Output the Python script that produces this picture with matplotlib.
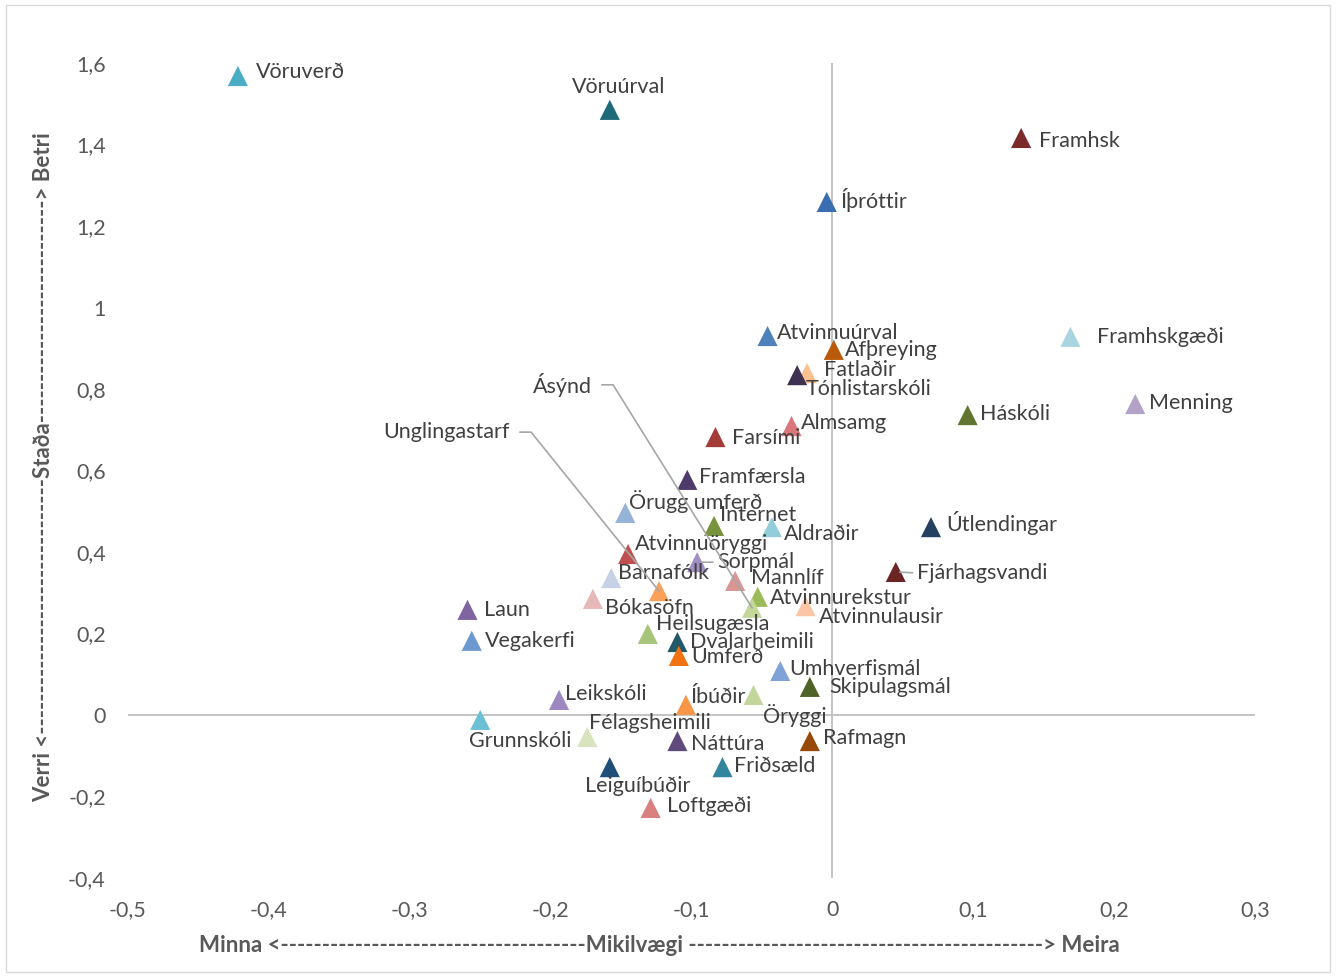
import math

import matplotlib

matplotlib.use("Agg")
import matplotlib.pyplot as plt
from matplotlib.patches import Rectangle
from matplotlib.ticker import FuncFormatter, MultipleLocator

# ---- data -------------------------------------------------------------
names = [
    "Vöruverð", "Vöruúrval", "Framhsk", "Íþróttir", "Atvinnuúrval", "Afþreying",
    "Fatlaðir", "Tónlistarskóli", "Framhskgæði", "Menning", "Háskóli", "Almsamg",
    "Farsími", "Framfærsla", "Örugg umferð", "Internet", "Aldraðir", "Útlendingar",
    "Atvinnuöryggi", "Sorpmál", "Fjárhagsvandi", "Barnafólk", "Mannlíf",
    "Unglingastarf", "Bókasöfn", "Atvinnurekstur", "Ásýnd", "Atvinnulausir",
    "Laun", "Heilsugæsla", "Vegakerfi", "Dvalarheimili", "Umferð", "Umhverfismál",
    "Skipulagsmál", "Leikskóli", "Öryggi", "Íbúðir", "Grunnskóli", "Félagsheimili",
    "Náttúra", "Rafmagn", "Friðsæld", "Leiguíbúðir", "Loftgæði",
]
importance = [
    -0.422, -0.158, 0.134, -0.004, -0.046, 0.001,
    -0.018, -0.025, 0.169, 0.215, 0.096, -0.029,
    -0.083, -0.103, -0.147, -0.084, -0.043, 0.070,
    -0.145, -0.096, 0.045, -0.157, -0.069,
    -0.123, -0.170, -0.053, -0.057, -0.019,
    -0.259, -0.131, -0.256, -0.110, -0.109, -0.037,
    -0.016, -0.194, -0.056, -0.104, -0.250, -0.174,
    -0.110, -0.016, -0.078, -0.158, -0.129,
]
status = [
    1.568, 1.485, 1.416, 1.259, 0.930, 0.896,
    0.839, 0.834, 0.928, 0.763, 0.736, 0.709,
    0.682, 0.577, 0.496, 0.464, 0.461, 0.461,
    0.395, 0.375, 0.351, 0.336, 0.329,
    0.304, 0.285, 0.290, 0.263, 0.267,
    0.258, 0.199, 0.182, 0.179, 0.145, 0.108,
    0.069, 0.037, 0.049, 0.025, -0.012, -0.054,
    -0.064, -0.064, -0.128, -0.128, -0.228,
]
colors = [
    "#4BACC6", "#1F6A78", "#7B2C2A", "#3B6EB0", "#4F81BD", "#B85C0C",
    "#FAC090", "#3F3151", "#A9D4E0", "#B3A2C7", "#5F7530", "#D9777A",
    "#A33B38", "#4E3B6B", "#95B3D7", "#77933C", "#92CDDC", "#254061",
    "#C0504D", "#A28FC4", "#6B2524", "#C6D1E6", "#DA9694",
    "#F9A15A", "#E6B9B8", "#9BBB59", "#C4D79B", "#FAC6A6",
    "#8064A2", "#A6C47A", "#6D99D1", "#215968", "#F07212", "#7FA3D6",
    "#4F6228", "#9D88C0", "#C3D69B", "#F79646", "#6CC0D6", "#D7E4BD",
    "#604A7B", "#984807", "#31859C", "#1F4E79", "#D98080",
]

# label placement (offset in pixels from the marker, horizontal alignment)
label_pos = {
    "Vöruverð": (18, 4, "left"), "Vöruúrval": (9, 23, "center"),
    "Framhsk": (18, -3, "left"), "Íþróttir": (14, 2, "left"),
    "Atvinnuúrval": (9, 3, "left"), "Afþreying": (11, 0, "left"),
    "Fatlaðir": (17, 3, "left"), "Tónlistarskóli": (8, -14, "left"),
    "Framhskgæði": (27, 0, "left"), "Menning": (14, 1, "left"),
    "Háskóli": (12, 1, "left"), "Almsamg": (9, 3, "left"),
    "Farsími": (17, -1, "left"), "Framfærsla": (12, 3, "left"),
    "Örugg umferð": (4, 11, "left"), "Internet": (6, 11, "left"),
    "Aldraðir": (12, -7, "left"), "Útlendingar": (15, 4, "left"),
    "Atvinnuöryggi": (7, 10, "left"), "Sorpmál": (20, 0, "left"),
    "Fjárhagsvandi": (21, -1, "left"), "Barnafólk": (7, 5, "left"),
    "Mannlíf": (16, 3, "left"), "Unglingastarf": (-149, 159, "right"),
    "Bókasöfn": (12, -9, "left"), "Atvinnurekstur": (12, -1, "left"),
    "Ásýnd": (-160, 223, "right"), "Atvinnulausir": (13, -11, "left"),
    "Laun": (16, 0, "left"), "Heilsugæsla": (8, 10, "left"),
    "Vegakerfi": (13, 0, "left"), "Dvalarheimili": (13, 0, "left"),
    "Umferð": (12, -1, "left"), "Umhverfismál": (9, 2, "left"),
    "Skipulagsmál": (19, 0, "left"), "Leikskóli": (6, 6, "left"),
    "Öryggi": (10, -20, "left"), "Íbúðir": (5, 8, "left"),
    "Grunnskóli": (-11, -21, "left"), "Félagsheimili": (2, 14, "left"),
    "Náttúra": (14, -3, "left"), "Rafmagn": (13, 3, "left"),
    "Friðsæld": (12, 1, "left"), "Leiguíbúðir": (-25, -19, "left"),
    "Loftgæði": (16, 2, "left"),
}
short_leaders = {"Sorpmál", "Fjárhagsvandi"}
# long leaders: length of the horizontal stub after the label, in pixels
long_leaders = {"Unglingastarf": 21, "Ásýnd": 21}

x_ticks_step = 0.1
y_ticks_step = 0.2
x_title = "Minna <" + "-" * 37 + "Mikilvægi " + "-" * 43 + "> Meira"
y_title = "Verri <" + "-" * 31 + "Staða" + "-" * 27 + "> Betri"

# ---- style ------------------------------------------------------------
W, H, DPI = 1336, 977, 100
FONT = ["Lato", "DejaVu Sans"]
plt.rcParams["font.family"] = FONT
TEXT = "#404040"
TICK = "#595959"
GRID = "#BFBFBF"
LABEL_SIZE = 15.5

fig = plt.figure(figsize=(W / DPI, H / DPI), dpi=DPI)
ax = fig.add_axes([128 / W, 1 - 878 / H, (1255 - 128) / W, (878 - 63) / H])

ax.set_xlim(-0.5, 0.3)
ax.set_ylim(-0.4, 1.6)
for s in ax.spines.values():
    s.set_visible(False)
ax.axhline(0, color=GRID, lw=1.3, zorder=1)
ax.axvline(0, color=GRID, lw=1.3, zorder=1)

ax.xaxis.set_major_locator(MultipleLocator(x_ticks_step))
ax.yaxis.set_major_locator(MultipleLocator(y_ticks_step))
comma = FuncFormatter(lambda v, _: f"{round(v, 2):g}".replace(".", ","))
ax.xaxis.set_major_formatter(comma)
ax.yaxis.set_major_formatter(comma)
ax.tick_params(length=0, labelsize=LABEL_SIZE, labelcolor=TICK, pad=16)

ax.scatter(importance, status, marker="^", s=210, c=colors, linewidths=0, zorder=3)

for name, x, y in zip(names, importance, status):
    dx, dy, ha = label_pos[name]
    kw = dict(
        xy=(x, y), xytext=(dx, dy), textcoords="offset pixels",
        ha=ha, va="center", fontsize=LABEL_SIZE, color=TEXT, zorder=4,
    )
    if name in short_leaders:
        kw["arrowprops"] = dict(
            arrowstyle="-", color="#A6A6A6", lw=1.2,
            relpos=(0, 0.5), shrinkA=1, shrinkB=3,
        )
    elif name in long_leaders:
        stub = long_leaders[name]
        # direction of the slanted part, from the marker back to the corner
        ang = math.degrees(math.atan2(dy, dx + stub))
        kw["arrowprops"] = dict(
            arrowstyle="-", color="#A6A6A6", lw=1.2, relpos=(1, 0.5),
            shrinkA=5, shrinkB=0,
            connectionstyle=f"angle,angleA=0,angleB={ang},rad=0",
        )
    ax.annotate(name, **kw)

fig.text(659 / W, 1 - 945 / H, x_title, ha="center", va="center",
         fontsize=16, fontweight="bold", color=TICK)
fig.text(44 / W, 1 - 467 / H, y_title, ha="center", va="center",
         rotation=90, fontsize=16, fontweight="bold", color=TICK)

fig.add_artist(Rectangle((6 / W, 5 / H), 1 - 12 / W, 1 - 10 / H,
                         transform=fig.transFigure, fill=False,
                         edgecolor="#D9D9D9", lw=1.0))

fig.savefig("out.png", dpi=DPI)
